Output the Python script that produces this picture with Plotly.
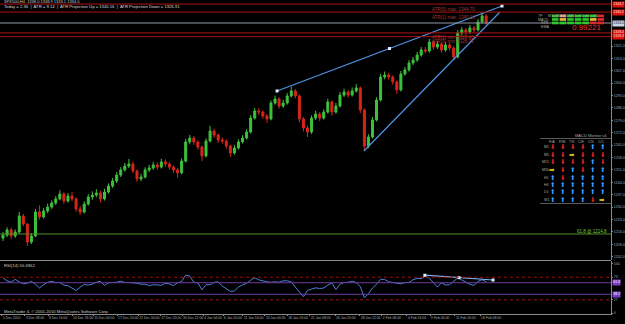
import plotly.graph_objects as go

# ---------------- data ----------------
opens = [1212.5, 1214.2, 1217.1, 1213.7, 1215.9, 1225.0, 1220.4, 1210.3, 1213.7, 1227.2,
         1224.4, 1227.8, 1230.0, 1232.3, 1234.6, 1237.4, 1233.4, 1236.3, 1234.6, 1228.9,
         1227.2, 1231.7, 1235.7, 1236.8, 1238.0, 1234.6, 1238.5, 1241.9, 1244.7, 1248.1,
         1251.0, 1253.2, 1254.3, 1250.4, 1245.9, 1247.0, 1251.0, 1252.1, 1253.8, 1252.6,
         1255.5, 1254.3, 1252.6, 1251.0, 1249.3, 1256.0, 1266.8, 1269.0, 1266.8, 1263.9,
         1258.9, 1267.3, 1273.0, 1270.7, 1267.9, 1267.3, 1264.5, 1260.6, 1263.4, 1266.8,
         1269.0, 1272.4, 1280.3, 1284.3, 1283.7, 1281.5, 1279.8, 1288.8, 1291.1, 1287.1,
         1288.8, 1292.8, 1295.6, 1292.8, 1279.8, 1274.7, 1272.4, 1280.3, 1282.6, 1280.3,
         1283.7, 1289.4, 1283.7, 1287.1, 1293.3, 1295.0, 1293.3, 1295.6, 1297.3, 1284.9,
         1264.5, 1269.6, 1279.2, 1290.5, 1303.5, 1304.6, 1303.5, 1300.7, 1296.2, 1305.2,
         1307.5, 1311.4, 1313.1, 1315.9, 1318.8, 1318.2, 1323.3, 1320.4, 1322.1, 1318.8,
         1321.6, 1319.9, 1314.8, 1328.4, 1330.1, 1328.9, 1331.2, 1330.1, 1334.6, 1338.0]
closes = [1214.2, 1217.1, 1213.7, 1215.9, 1225.0, 1220.4, 1210.3, 1213.7, 1227.2, 1224.4,
          1227.8, 1230.0, 1232.3, 1234.6, 1237.4, 1233.4, 1236.3, 1234.6, 1228.9, 1227.2,
          1231.7, 1235.7, 1236.8, 1238.0, 1234.6, 1238.5, 1241.9, 1244.7, 1248.1, 1251.0,
          1253.2, 1254.3, 1250.4, 1245.9, 1247.0, 1251.0, 1252.1, 1253.8, 1252.6, 1255.5,
          1254.3, 1252.6, 1251.0, 1249.3, 1256.0, 1266.8, 1269.0, 1266.8, 1263.9, 1258.9,
          1267.3, 1273.0, 1270.7, 1267.9, 1267.3, 1264.5, 1260.6, 1263.4, 1266.8, 1269.0,
          1272.4, 1280.3, 1284.3, 1283.7, 1281.5, 1279.8, 1288.8, 1291.1, 1287.1, 1288.8,
          1292.8, 1295.6, 1292.8, 1279.8, 1274.7, 1272.4, 1280.3, 1282.6, 1280.3, 1283.7,
          1289.4, 1283.7, 1287.1, 1293.3, 1295.0, 1293.3, 1295.6, 1297.3, 1284.9, 1264.5,
          1269.6, 1279.2, 1290.5, 1303.5, 1304.6, 1303.5, 1300.7, 1296.2, 1305.2, 1307.5,
          1311.4, 1313.1, 1315.9, 1318.8, 1318.2, 1323.3, 1320.4, 1322.1, 1318.8, 1321.6,
          1319.9, 1314.8, 1328.4, 1330.1, 1328.9, 1331.2, 1330.1, 1334.6, 1338.0, 1334.0]
highs = [1216.0, 1218.6, 1218.3, 1217.4, 1227.3, 1226.1, 1221.0, 1215.3, 1229.0, 1231.0,
         1229.4, 1232.0, 1233.8, 1236.2, 1239.5, 1238.4, 1237.9, 1238.6, 1235.5, 1230.6,
         1233.2, 1237.3, 1238.9, 1240.1, 1239.1, 1240.3, 1243.4, 1246.5, 1249.8, 1252.6,
         1255.0, 1257.2, 1255.6, 1251.3, 1248.9, 1252.5, 1253.9, 1255.6, 1255.2, 1257.3,
         1256.9, 1255.4, 1253.6, 1252.2, 1257.5, 1268.5, 1270.8, 1270.1, 1267.6, 1264.8,
         1268.8, 1275.9, 1274.3, 1271.6, 1269.4, 1268.2, 1265.3, 1265.1, 1268.3, 1270.6,
         1274.0, 1282.0, 1286.0, 1285.9, 1284.6, 1282.5, 1290.2, 1292.9, 1292.0, 1290.6,
         1294.4, 1298.0, 1296.7, 1293.6, 1280.9, 1276.0, 1281.8, 1284.4, 1283.7, 1285.3,
         1291.2, 1290.3, 1288.8, 1295.1, 1296.9, 1296.1, 1297.6, 1299.5, 1298.1, 1285.8,
         1271.2, 1280.9, 1292.1, 1305.2, 1306.6, 1306.0, 1304.4, 1301.5, 1306.9, 1309.2,
         1313.1, 1314.9, 1317.7, 1320.5, 1320.4, 1325.0, 1324.3, 1323.9, 1323.0, 1323.2,
         1322.7, 1320.8, 1330.0, 1331.8, 1331.2, 1332.9, 1332.5, 1336.3, 1340.2, 1338.9]
lows = [1210.8, 1213.0, 1211.9, 1212.6, 1215.0, 1219.2, 1208.0, 1209.1, 1213.0, 1222.9,
        1223.5, 1226.5, 1229.0, 1231.2, 1233.8, 1231.9, 1232.5, 1233.5, 1227.4, 1225.6,
        1226.4, 1230.8, 1234.1, 1235.5, 1232.6, 1233.7, 1237.6, 1240.8, 1243.6, 1247.0,
        1250.1, 1252.0, 1249.2, 1244.2, 1244.6, 1246.1, 1249.8, 1251.0, 1251.1, 1251.8,
        1252.8, 1251.2, 1249.3, 1246.6, 1248.5, 1255.2, 1265.5, 1265.1, 1262.4, 1256.0,
        1258.0, 1266.5, 1269.2, 1266.2, 1265.8, 1263.0, 1258.5, 1259.6, 1262.5, 1265.9,
        1268.1, 1271.5, 1279.4, 1281.9, 1279.9, 1277.6, 1279.0, 1287.8, 1285.6, 1286.0,
        1287.9, 1291.9, 1291.4, 1277.9, 1272.8, 1269.6, 1271.3, 1279.2, 1278.6, 1279.4,
        1282.8, 1281.6, 1282.8, 1286.3, 1292.2, 1291.8, 1292.4, 1294.6, 1283.0, 1261.7,
        1263.3, 1268.8, 1278.4, 1289.6, 1302.2, 1301.9, 1299.2, 1293.9, 1295.3, 1304.3,
        1306.5, 1310.2, 1312.0, 1315.0, 1316.9, 1317.3, 1318.9, 1319.3, 1317.2, 1317.8,
        1318.4, 1313.1, 1314.0, 1327.2, 1327.3, 1327.9, 1328.6, 1329.2, 1333.6, 1333.1]
rsi = [71.6, 65.7, 62.7, 68.6, 63.7, 59.8, 60.8, 64.7, 58.8, 51.0,
       57.8, 62.7, 64.7, 62.2, 62.2, 56.9, 55.5, 51.0, 46.1, 52.4,
       58.2, 56.9, 58.8, 62.7, 64.7, 56.3, 61.8, 62.2, 62.7, 64.9,
       62.2, 62.2, 62.2, 60.8, 58.8, 58.8, 56.1, 57.6, 57.3, 56.5,
       60.8, 59.2, 55.9, 61.6, 64.3, 77.5, 75.3, 62.7, 61.8, 47.1,
       57.8, 57.8, 62.7, 63.7, 54.9, 49.0, 44.1, 45.1, 52.9, 57.3,
       60.8, 66.7, 72.0, 67.6, 65.3, 63.7, 62.7, 63.7, 62.7, 65.7,
       65.7, 63.3, 52.9, 42.2, 33.3, 46.1, 49.0, 51.4, 50.0, 51.0,
       56.9, 61.2, 48.0, 58.8, 62.2, 62.7, 64.9, 62.2, 53.9, 31.4,
       39.2, 51.0, 58.4, 68.6, 68.6, 63.7, 62.2, 60.8, 59.4, 62.2,
       62.2, 68.0, 70.6, 70.0, 74.9, 71.0, 61.8, 52.9, 61.8, 56.9,
       57.8, 64.7, 71.6, 67.3, 62.7, 58.8, 56.3, 64.7, 68.0, 63.7]
bars = list(range(len(closes)))

x_tick_bars = [-0.25, 5.4, 11.1, 17.0, 22.2, 28.1, 33.3, 38.7, 44.1, 49.3, 54.2,
               59.1, 64.5, 70.0, 75.6, 81.8, 87.9, 93.3, 99.5, 105.2, 111.3, 117.5]
x_tick_text = ["1 Dec 2010", "3 Dec 08:00", "8 Dec 16:00", "10 Dec 16:00", "15 Dec 04:00",
               "17 Dec 20:00", "22 Dec 00:00", "27 Dec 20:00", "30 Dec 12:00", "4 Jan 04:00",
               "6 Jan 20:00", "11 Jan 16:00", "14 Jan 00:00", "18 Jan 16:00", "21 Jan 08:00",
               "26 Jan 20:00", "28 Jan 12:00", "2 Feb 08:00", "4 Feb 16:00", "9 Feb 04:00",
               "11 Feb 20:00", "16 Feb 08:00"]
price_ticks = [1321.0, 1314.0, 1307.0, 1300.0, 1293.0, 1286.0, 1279.0, 1272.0, 1265.0,
               1258.0, 1251.0, 1244.0, 1237.0, 1230.0, 1223.0, 1216.0, 1209.0, 1202.0]
rsi_ticks = [0, 27, 73, 100]

atr_names = ["ATR(5) max", "ATR(1) max", "ATR(1) min", "ATR(5) min"]
atr_levels = [1344.70, 1340.16, 1328.40, 1326.31]
bid_price = 1334.0
fib_level = 1214.8
fib_text = "61.8 @ 1214.8"

upper_trend_bars = [67.5, 122.9]
upper_trend_prices = [1295.6, 1343.6]
lower_trend_bars = [88.9, 122.4]
lower_trend_prices = [1261.7, 1340.2]
rsi_trend_bars = [103.9, 120.7]
rsi_trend_vals = [77.1, 67.3]
rsi_levels_dot = [73, 27]
rsi_levels_fib = [61.8, 38.2]

tf_cols = ["M1", "M5", "M15", "M30", "H1", "H4", "D1"]
tf_rows = ["MACD", "STR", "EMA"]
tf_state = [["up", "weak", "up", "up", "up", "up", "down"],
            ["up", "mid", "up", "up", "up", "mid", "down"],
            ["up", "up", "up", "up", "up", "down", "down"]]
signal_value = "0.99221"

mon_cols = ["F/A", "F/M", "T/K", "C/E", "C/K", "C/C"]
mon_rows = ["M1", "M5", "M15", "M30", "H1", "H4", "D1", "W1"]
mon_state = [["D", "D", "D", "D", "U", "U"],
             ["D", "D", "R", "D", "D", "D"],
             ["D", "D", "D", "D", "U", "D"],
             ["R", "D", "U", "D", "U", "U"],
             ["U", "D", "U", "U", "U", "U"],
             ["U", "U", "U", "U", "U", "U"],
             ["U", "U", "U", "U", "U", "U"],
             ["U", "U", "U", "U", "D", "R"]]

# ---------------- styling / layout helpers ----------------
PW, PH = 611, 314
def px(x):
    return x / PW
def py(y):
    return (PH - y) / PH

FONT = "Liberation Sans"
GRAY = "#a8a8a8"
AXIS = "#8a8a8a"
RED_LINE = "#b01010"

fig = go.Figure()

fig.add_trace(go.Candlestick(
    x=bars, open=opens, high=highs, low=lows, close=closes,
    increasing=dict(line=dict(color="#3cc23c", width=1), fillcolor="#3cc23c"),
    decreasing=dict(line=dict(color="#d6261c", width=1), fillcolor="#d6261c"),
    whiskerwidth=0, hoverinfo="skip", showlegend=False, xaxis="x", yaxis="y"))

# trend lines (price)
TL = "#4f95e6"
fig.add_trace(go.Scatter(
    x=upper_trend_bars, y=upper_trend_prices, mode="lines",
    line=dict(color=TL, width=1.2), hoverinfo="skip", showlegend=False))
fig.add_trace(go.Scatter(
    x=[upper_trend_bars[0], sum(upper_trend_bars) / 2, upper_trend_bars[1]],
    y=[upper_trend_prices[0], sum(upper_trend_prices) / 2, upper_trend_prices[1]],
    mode="markers", marker=dict(symbol="square", size=3, color="#dfeeff"),
    hoverinfo="skip", showlegend=False))
fig.add_trace(go.Scatter(
    x=lower_trend_bars, y=lower_trend_prices, mode="lines",
    line=dict(color=TL, width=1.2), hoverinfo="skip", showlegend=False))

# RSI
fig.add_trace(go.Scatter(
    x=bars, y=rsi, mode="lines", line=dict(color="#4f7fd8", width=1),
    hoverinfo="skip", showlegend=False, xaxis="x", yaxis="y2"))
fig.add_trace(go.Scatter(
    x=rsi_trend_bars, y=rsi_trend_vals, mode="lines",
    line=dict(color="#7fb2f0", width=1.2), hoverinfo="skip", showlegend=False,
    xaxis="x", yaxis="y2"))
fig.add_trace(go.Scatter(
    x=[rsi_trend_bars[0], sum(rsi_trend_bars) / 2, rsi_trend_bars[1]],
    y=[rsi_trend_vals[0], sum(rsi_trend_vals) / 2, rsi_trend_vals[1]],
    mode="markers", marker=dict(symbol="square", size=3, color="#dfeeff"),
    hoverinfo="skip", showlegend=False, xaxis="x", yaxis="y2"))

shapes = []
annotations = []

# horizontal levels in price panel
for lvl in atr_levels:
    shapes.append(dict(type="line", xref="paper", x0=0, x1=1, yref="y", y0=lvl, y1=lvl,
                       line=dict(color=RED_LINE, width=1)))
shapes.append(dict(type="line", xref="paper", x0=0, x1=1, yref="y", y0=bid_price, y1=bid_price,
                   line=dict(color="#8f9aa6", width=1)))
shapes.append(dict(type="line", xref="paper", x0=0, x1=1, yref="y", y0=fib_level, y1=fib_level,
                   line=dict(color="#4f8f2a", width=1)))
# RSI levels
for lvl in rsi_levels_dot:
    shapes.append(dict(type="line", xref="paper", x0=0, x1=1, yref="y2", y0=lvl, y1=lvl,
                       line=dict(color="#9a1010", width=1, dash="dot")))
for lvl in rsi_levels_fib:
    shapes.append(dict(type="line", xref="paper", x0=0, x1=1, yref="y2", y0=lvl, y1=lvl,
                       line=dict(color="#6c3c9c", width=1)))
# panel separator
shapes.append(dict(type="line", xref="paper", x0=0, x1=1, yref="paper", y0=py(260.5), y1=py(260.5),
                   line=dict(color="#8a8a8a", width=1)))

# ATR text labels on the lines
for name, lvl in zip(atr_names, atr_levels):
    annotations.append(dict(xref="x", yref="y", x=105.2, y=lvl, xanchor="left", yanchor="top",
                            yshift=-0.5, text=f"{name}: {lvl:.2f}", showarrow=False,
                            font=dict(family=FONT, size=4.5, color="#a03a3a")))
# right-axis boxed labels
for lvl in atr_levels:
    annotations.append(dict(xref="paper", yref="y", x=1.0, y=lvl, xanchor="left", yanchor="middle",
                            xshift=1, text=f"{lvl:.1f}", showarrow=False, bgcolor="#e01010",
                            borderpad=0.3, font=dict(family=FONT, size=3.5, color="#ffe0e0")))
annotations.append(dict(xref="paper", yref="y", x=1.0, y=bid_price, xanchor="left", yanchor="middle",
                        xshift=1, text=f"{bid_price:.1f}", showarrow=False, bgcolor="#c8d6e4",
                        borderpad=0.3, font=dict(family=FONT, size=3.5, color="#101820")))
for lvl in rsi_levels_fib:
    annotations.append(dict(xref="paper", yref="y2", x=1.0, y=lvl, xanchor="left", yanchor="middle",
                            xshift=1, text=f"{lvl:.1f}", showarrow=False, bgcolor="#7a3cc8",
                            borderpad=0.3, font=dict(family=FONT, size=3.5, color="#ffffff")))
# fib label
annotations.append(dict(xref="paper", yref="y", x=px(609), y=fib_level, xanchor="right",
                        yanchor="bottom", yshift=-2, text=fib_text, showarrow=False,
                        font=dict(family=FONT, size=4.5, color="#7fcf3f")))

# header texts
annotations.append(dict(xref="paper", yref="paper", x=px(2), y=py(2), xanchor="left", yanchor="middle",
                        text="SPX500,H4  1338.0 1338.9 1333.1 1334.0", showarrow=False,
                        font=dict(family=FONT, size=4, color="#c8c8c8")))
annotations.append(dict(xref="paper", yref="paper", x=px(2), y=py(7), xanchor="left", yanchor="middle",
                        text="Today = 2.36  |  ATR = 9.14  |  ATR Projection Up = 1340.16  |  ATR Projection Down = 1326.31",
                        showarrow=False, font=dict(family=FONT, size=4.2, color="#d8d8d8")))
annotations.append(dict(xref="paper", yref="paper", x=px(2), y=py(265.5), xanchor="left", yanchor="middle",
                        text="RSI(14) 56.6962", showarrow=False,
                        font=dict(family=FONT, size=4.2, color="#c8c8c8")))
annotations.append(dict(xref="paper", yref="paper", x=px(2), y=py(311), xanchor="left", yanchor="middle",
                        text="MetaTrader 4, © 2001-2010 MetaQuotes Software Corp.", showarrow=False,
                        font=dict(family=FONT, size=4.2, color="#c8c8c8")))

# top-right trend table
state_col = {"up": "#2cc82c", "weak": "#f2a48c", "mid": "#f0b43c", "down": "#dd2a2a"}
annotations.append(dict(xref="paper", yref="paper", x=px(545), y=py(12), text="TF", showarrow=False,
                        font=dict(family=FONT, size=3.6, color=GRAY)))
for j, c in enumerate(tf_cols):
    cx = 552 + 7.6 * j
    annotations.append(dict(xref="paper", yref="paper", x=px(cx + 3.2), y=py(12), text=c,
                            showarrow=False, font=dict(family=FONT, size=3.6, color=GRAY)))
for r, name in enumerate(tf_rows):
    cy = 14.6 + 3.5 * r
    annotations.append(dict(xref="paper", yref="paper", x=px(550.5), y=py(cy + 1.3), xanchor="right",
                            text=name, showarrow=False, font=dict(family=FONT, size=3.6, color=GRAY)))
    for j, st in enumerate(tf_state[r]):
        cx = 552 + 7.6 * j
        shapes.append(dict(type="rect", xref="paper", yref="paper", x0=px(cx), x1=px(cx + 6.5),
                           y0=py(cy + 2.7), y1=py(cy), fillcolor=state_col[st], line=dict(width=0)))
annotations.append(dict(xref="paper", yref="paper", x=px(603), y=py(27.5), xanchor="right",
                        yanchor="middle", text=signal_value, showarrow=False,
                        font=dict(family=FONT, size=8, color="#ff2a2a")))

# MACD monitor arrows
annotations.append(dict(xref="paper", yref="paper", x=px(609), y=py(135), xanchor="right",
                        text="MACD Monitor v4", showarrow=False,
                        font=dict(family=FONT, size=4, color=GRAY)))
shapes.append(dict(type="line", xref="paper", yref="paper", x0=px(540), x1=1, y0=py(138.5), y1=py(138.5),
                   line=dict(color="#5a5a5a", width=1)))
shapes.append(dict(type="line", xref="paper", yref="paper", x0=px(540), x1=1, y0=py(203.5), y1=py(203.5),
                   line=dict(color="#5a5a5a", width=1)))
arrow_glyph = {"U": "⬆", "D": "⬇", "R": "➡"}
arrow_col = {"U": "#3b9cff", "D": "#e8231e", "R": "#f2d21a"}
for j, c in enumerate(mon_cols):
    annotations.append(dict(xref="paper", yref="paper", x=px(557 + 10 * j), y=py(142), text=c,
                            showarrow=False, font=dict(family=FONT, size=3.6, color=GRAY)))
for r, name in enumerate(mon_rows):
    cy = 147.5 + 7.5 * r
    annotations.append(dict(xref="paper", yref="paper", x=px(551), y=py(cy), xanchor="right",
                            text=name, showarrow=False, font=dict(family=FONT, size=3.6, color=GRAY)))
    for j, st in enumerate(mon_state[r]):
        annotations.append(dict(xref="paper", yref="paper", x=px(557 + 10 * j), y=py(cy),
                                text=arrow_glyph[st], showarrow=False,
                                font=dict(family="DejaVu Sans", size=6.5, color=arrow_col[st])))

fig.update_layout(
    width=625, height=324,
    margin=dict(l=0, r=14, t=0, b=10, pad=0),
    paper_bgcolor="#000000", plot_bgcolor="#000000",
    showlegend=False, hovermode=False,
    xaxis=dict(domain=[0, 1], range=[-0.739, 149.75], anchor="y2",
               tickvals=x_tick_bars, ticktext=x_tick_text, ticklabelposition="outside right",
               tickangle=0, ticks="outside", ticklen=1, tickcolor=AXIS, tickwidth=1,
               tickfont=dict(family=FONT, size=3.4, color=GRAY),
               showline=True, linecolor=AXIS, linewidth=1, showgrid=False, zeroline=False,
               rangeslider=dict(visible=False), automargin=False),
    yaxis=dict(domain=[py(260), 1], range=[1200.1, 1347.0], side="right", anchor="x",
               tickvals=price_ticks, tickformat=".1f", ticks="outside", ticklen=1,
               tickcolor=AXIS, tickfont=dict(family=FONT, size=3.6, color=GRAY),
               showline=True, linecolor=AXIS, linewidth=1, showgrid=False, zeroline=False,
               automargin=False),
    yaxis2=dict(domain=[0, py(261)], range=[-2.0, 106.1], side="right", anchor="x",
                tickvals=rsi_ticks, ticks="outside", ticklen=1, tickcolor=AXIS,
                tickfont=dict(family=FONT, size=3.6, color=GRAY),
                showline=True, linecolor=AXIS, linewidth=1, showgrid=False, zeroline=False,
                automargin=False),
    shapes=shapes, annotations=annotations,
)

fig.write_html("out.html")
